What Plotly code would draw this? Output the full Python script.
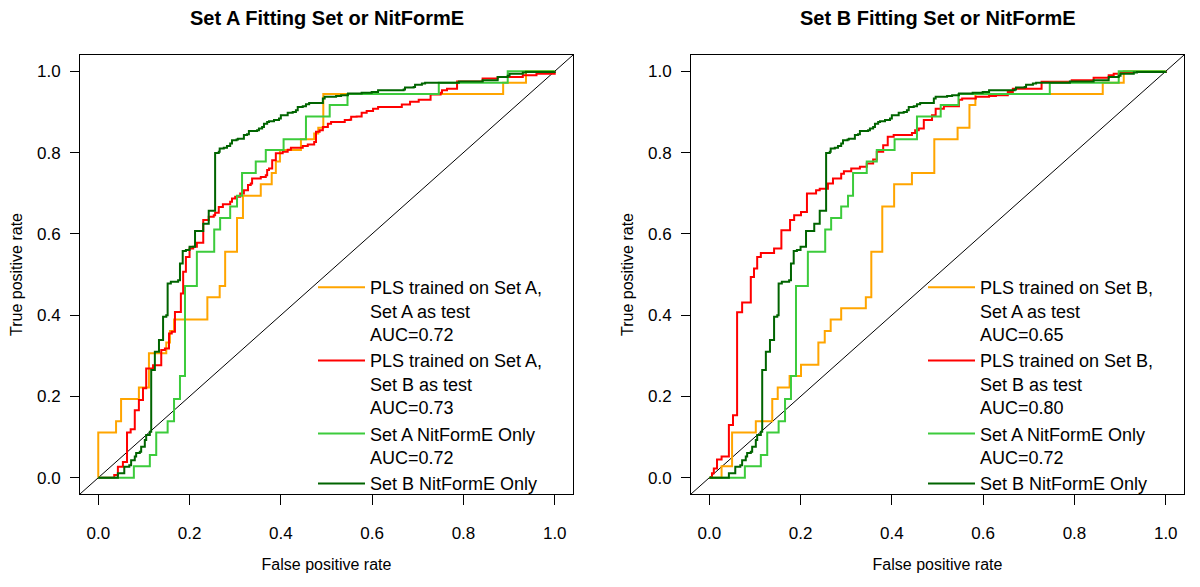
import plotly.graph_objects as go

# ---------------- data ----------------
PANEL_TITLES = ["Set A Fitting Set or NitFormE", "Set B Fitting Set or NitFormE"]
X_LABEL = "False positive rate"
Y_LABEL = "True positive rate"
TICK_VALUES = [0.0, 0.2, 0.4, 0.6, 0.8, 1.0]
TICK_LABELS = ["0.0", "0.2", "0.4", "0.6", "0.8", "1.0"]
AXIS_RANGE = [-0.04, 1.04]

# Left panel: PLS trained on Set A, Set A as test (AUC 0.72)
PLS_A_ON_A_FPR = [0, 0, 0.039, 0.050, 0.089, 0.111, 0.149, 0.157, 0.166, 0.239, 0.266, 0.278, 0.304,
                  0.317, 0.356, 0.380, 0.389, 0.398, 0.444, 0.473, 0.482, 0.493, 0.887, 0.937, 1.0]
PLS_A_ON_A_TPR = [0, 0.111, 0.139, 0.194, 0.222, 0.306, 0.333, 0.361, 0.389, 0.444, 0.472, 0.556, 0.639,
                  0.694, 0.722, 0.750, 0.778, 0.806, 0.833, 0.847, 0.861, 0.944, 0.972, 1.0, 1.0]

# Left panel: PLS trained on Set A, Set B as test (AUC 0.73)
PLS_A_ON_B_FPR = [0, 0.035, 0.043, 0.054, 0.063, 0.071, 0.080, 0.089, 0.098, 0.105, 0.120, 0.138, 0.146,
                  0.155, 0.161, 0.168, 0.181, 0.186, 0.192, 0.200, 0.208, 0.216, 0.230, 0.242, 0.253,
                  0.256, 0.264, 0.273, 0.289, 0.293, 0.300, 0.311, 0.319, 0.328, 0.334, 0.337, 0.356,
                  0.367, 0.370, 0.374, 0.381, 0.389, 0.404, 0.415, 0.422, 0.448, 0.459, 0.473, 0.477,
                  0.485, 0.492, 0.503, 0.510, 0.540, 0.551, 0.554, 0.566, 0.577, 0.588, 0.602, 0.613,
                  0.665, 0.683, 0.702, 0.728, 0.750, 0.753, 0.764, 0.786, 0.842, 0.875, 0.930, 0.960, 1.0]
PLS_A_ON_B_TPR = [0, 0.007, 0.027, 0.039, 0.111, 0.119, 0.166, 0.191, 0.220, 0.269, 0.277, 0.314, 0.318,
                  0.355, 0.359, 0.408, 0.453, 0.507, 0.543, 0.564, 0.568, 0.578, 0.634, 0.642, 0.646,
                  0.652, 0.666, 0.673, 0.679, 0.687, 0.691, 0.699, 0.707, 0.720, 0.724, 0.736, 0.740,
                  0.744, 0.757, 0.761, 0.781, 0.798, 0.802, 0.807, 0.812, 0.816, 0.820, 0.826, 0.851,
                  0.855, 0.863, 0.871, 0.875, 0.880, 0.881, 0.888, 0.889, 0.898, 0.902, 0.908, 0.912,
                  0.918, 0.925, 0.930, 0.943, 0.947, 0.953, 0.957, 0.975, 0.982, 0.986, 0.990, 0.994, 1.0]

# Right panel: PLS trained on Set B, Set A as test (AUC 0.65)
PLS_B_ON_A_FPR = [0, 0.027, 0.050, 0.102, 0.138, 0.150, 0.176, 0.201, 0.239, 0.253, 0.266, 0.289,
                  0.343, 0.355, 0.379, 0.405, 0.444, 0.493, 0.544, 0.570, 0.583, 0.862, 0.908, 1.0]
PLS_B_ON_A_TPR = [0, 0.028, 0.111, 0.139, 0.194, 0.222, 0.250, 0.278, 0.333, 0.361, 0.389, 0.417,
                  0.444, 0.556, 0.667, 0.722, 0.750, 0.833, 0.861, 0.917, 0.944, 0.972, 1.0, 1.0]

# Right panel: PLS trained on Set B, Set B as test (AUC 0.80)
PLS_B_ON_B_FPR = [0, 0.006, 0.010, 0.017, 0.027, 0.043, 0.052, 0.061, 0.072, 0.091, 0.098, 0.105,
                  0.113, 0.142, 0.158, 0.177, 0.186, 0.201, 0.214, 0.234, 0.242, 0.260, 0.271, 0.289,
                  0.295, 0.311, 0.330, 0.345, 0.359, 0.367, 0.381, 0.391, 0.404, 0.444, 0.451, 0.459,
                  0.470, 0.488, 0.496, 0.514, 0.547, 0.554, 0.584, 0.613, 0.628, 0.654, 0.665, 0.728,
                  0.794, 0.842, 0.875, 0.886, 0.901, 1.0]
PLS_B_ON_B_TPR = [0, 0.011, 0.023, 0.045, 0.052, 0.130, 0.154, 0.407, 0.431, 0.494, 0.515, 0.543,
                  0.553, 0.564, 0.609, 0.634, 0.646, 0.654, 0.699, 0.707, 0.711, 0.724, 0.736, 0.748,
                  0.754, 0.761, 0.765, 0.773, 0.783, 0.802, 0.818, 0.839, 0.843, 0.848, 0.855, 0.859,
                  0.880, 0.892, 0.908, 0.914, 0.930, 0.933, 0.937, 0.939, 0.941, 0.949, 0.957, 0.974,
                  0.978, 0.984, 0.990, 0.994, 0.998, 1.0]

# Both panels: Set A NitFormE Only (AUC 0.72)
SETA_NITFORME_FPR = [0, 0.078, 0.113, 0.127, 0.152, 0.166, 0.179, 0.190, 0.216, 0.254, 0.267, 0.289,
                     0.304, 0.315, 0.345, 0.367, 0.406, 0.455, 0.507, 0.546, 0.746, 0.897, 1.0]
SETA_NITFORME_TPR = [0, 0.028, 0.056, 0.111, 0.139, 0.194, 0.250, 0.472, 0.556, 0.611, 0.639, 0.667,
                     0.694, 0.750, 0.778, 0.806, 0.833, 0.889, 0.917, 0.944, 0.972, 1.0, 1.0]

# Both panels: Set B NitFormE Only
SETB_NITFORME_FPR = [0, 0.043, 0.057, 0.068, 0.072, 0.080, 0.083, 0.091, 0.094, 0.102, 0.105, 0.113,
                     0.116, 0.124, 0.133, 0.142, 0.149, 0.152, 0.159, 0.175, 0.179, 0.185, 0.192, 0.200,
                     0.212, 0.230, 0.242, 0.256, 0.264, 0.266, 0.275, 0.282, 0.289, 0.293, 0.303, 0.306,
                     0.319, 0.326, 0.330, 0.348, 0.352, 0.359, 0.363, 0.370, 0.374, 0.385, 0.396, 0.400,
                     0.415, 0.426, 0.433, 0.437, 0.448, 0.455, 0.462, 0.492, 0.496, 0.521, 0.532, 0.547,
                     0.577, 0.599, 0.613, 0.669, 0.672, 0.691, 0.694, 0.709, 0.716, 0.790, 0.842, 0.875,
                     0.897, 0.901, 0.930, 0.937, 1.0]
SETB_NITFORME_TPR = [0, 0.011, 0.027, 0.031, 0.043, 0.052, 0.061, 0.064, 0.076, 0.093, 0.105, 0.113,
                     0.265, 0.310, 0.339, 0.396, 0.400, 0.478, 0.482, 0.486, 0.527, 0.558, 0.560, 0.568,
                     0.607, 0.625, 0.657, 0.799, 0.802, 0.810, 0.812, 0.816, 0.822, 0.830, 0.832, 0.834,
                     0.843, 0.845, 0.853, 0.855, 0.859, 0.863, 0.871, 0.875, 0.877, 0.880, 0.884, 0.892,
                     0.898, 0.900, 0.904, 0.912, 0.914, 0.919, 0.922, 0.933, 0.937, 0.939, 0.941, 0.945,
                     0.947, 0.949, 0.953, 0.955, 0.960, 0.961, 0.967, 0.970, 0.972, 0.975, 0.978, 0.986,
                     0.989, 0.994, 0.997, 0.998, 1.0]

LEFT_NAMES = ["PLS trained on Set A,<br>Set A as test<br>AUC=0.72",
              "PLS trained on Set A,<br>Set B as test<br>AUC=0.73",
              "Set A NitFormE Only<br>AUC=0.72",
              "Set B NitFormE Only"]
RIGHT_NAMES = ["PLS trained on Set B,<br>Set A as test<br>AUC=0.65",
               "PLS trained on Set B,<br>Set B as test<br>AUC=0.80",
               "Set A NitFormE Only<br>AUC=0.72",
               "Set B NitFormE Only"]
COLORS = ["#FFA500", "#FF0000", "#3CCB3C", "#006400"]

# ---------------- figure ----------------
FONT = "Liberation Sans, Arial, Helvetica, sans-serif"
W, H = 1200, 587

fig = go.Figure()

left_series = [(PLS_A_ON_A_FPR, PLS_A_ON_A_TPR), (PLS_A_ON_B_FPR, PLS_A_ON_B_TPR),
               (SETA_NITFORME_FPR, SETA_NITFORME_TPR), (SETB_NITFORME_FPR, SETB_NITFORME_TPR)]
right_series = [(PLS_B_ON_A_FPR, PLS_B_ON_A_TPR), (PLS_B_ON_B_FPR, PLS_B_ON_B_TPR),
                (SETA_NITFORME_FPR, SETA_NITFORME_TPR), (SETB_NITFORME_FPR, SETB_NITFORME_TPR)]

for (fx, ty), name, col in zip(left_series, LEFT_NAMES, COLORS):
    fig.add_trace(go.Scatter(x=fx, y=ty, mode="lines", name=name,
                             line=dict(color=col, width=2, shape="hv"),
                             xaxis="x", yaxis="y", legend="legend"))
for (fx, ty), name, col in zip(right_series, RIGHT_NAMES, COLORS):
    fig.add_trace(go.Scatter(x=fx, y=ty, mode="lines", name=name,
                             line=dict(color=col, width=2, shape="hv"),
                             xaxis="x2", yaxis="y2", legend="legend2"))

# diagonal reference lines across the whole plotting region
for xr, yr in [("x", "y"), ("x2", "y2")]:
    fig.add_shape(type="line", xref=xr, yref=yr, x0=AXIS_RANGE[0], y0=AXIS_RANGE[0],
                  x1=AXIS_RANGE[1], y1=AXIS_RANGE[1], line=dict(color="black", width=1),
                  layer="below")

ydom = [(H - 494) / H, (H - 55) / H]
xdoms = [[80 / W, 573 / W], [691 / W, 1184 / W]]

axis_common = dict(range=AXIS_RANGE, tickmode="array", tickvals=TICK_VALUES, ticktext=TICK_LABELS,
                   showline=True, mirror=True, linecolor="black", linewidth=1,
                   ticks="outside", tickcolor="black", tickwidth=1,
                   showgrid=False, zeroline=False,
                   tickfont=dict(family=FONT, size=17, color="black"))

for i, xd in enumerate(xdoms):
    sfx = "" if i == 0 else str(i + 1)
    fig.update_layout(**{
        "xaxis" + sfx: dict(axis_common, domain=xd, anchor="y" + sfx, ticklen=10,
                            ticklabelstandoff=14,
                            title=dict(text=X_LABEL, standoff=16,
                                       font=dict(family=FONT, size=16, color="black"))),
        "yaxis" + sfx: dict(axis_common, domain=ydom, anchor="x" + sfx, ticklen=9,
                            ticklabelstandoff=6,
                            title=dict(text=Y_LABEL, standoff=10,
                                       font=dict(family=FONT, size=16, color="black"))),
    })
    fig.add_annotation(text="<b>" + PANEL_TITLES[i] + "</b>", xref="x" + sfx + " domain", x=0.5,
                       yref="paper", y=1 - 18 / H, xanchor="center", yanchor="middle",
                       showarrow=False, font=dict(family=FONT, size=20, color="black"))

legend_common = dict(xanchor="left", yanchor="top", y=1 - 269 / H, bgcolor="rgba(0,0,0,0)",
                     borderwidth=0, itemwidth=47, valign="top", traceorder="normal",
                     font=dict(family=FONT, size=18, color="black"))
fig.update_layout(
    width=W, height=H,
    margin=dict(l=0, r=0, t=0, b=0),
    paper_bgcolor="white", plot_bgcolor="white",
    showlegend=True,
    legend=dict(legend_common, x=313 / W),
    legend2=dict(legend_common, x=923 / W),
    font=dict(family=FONT, color="black"),
)

# remove the browser's default page margin so the figure sits at the window origin
fig.write_html("out.html",
               config={"displayModeBar": False},
               post_script="document.body.style.margin='0';document.body.style.padding='0';")
